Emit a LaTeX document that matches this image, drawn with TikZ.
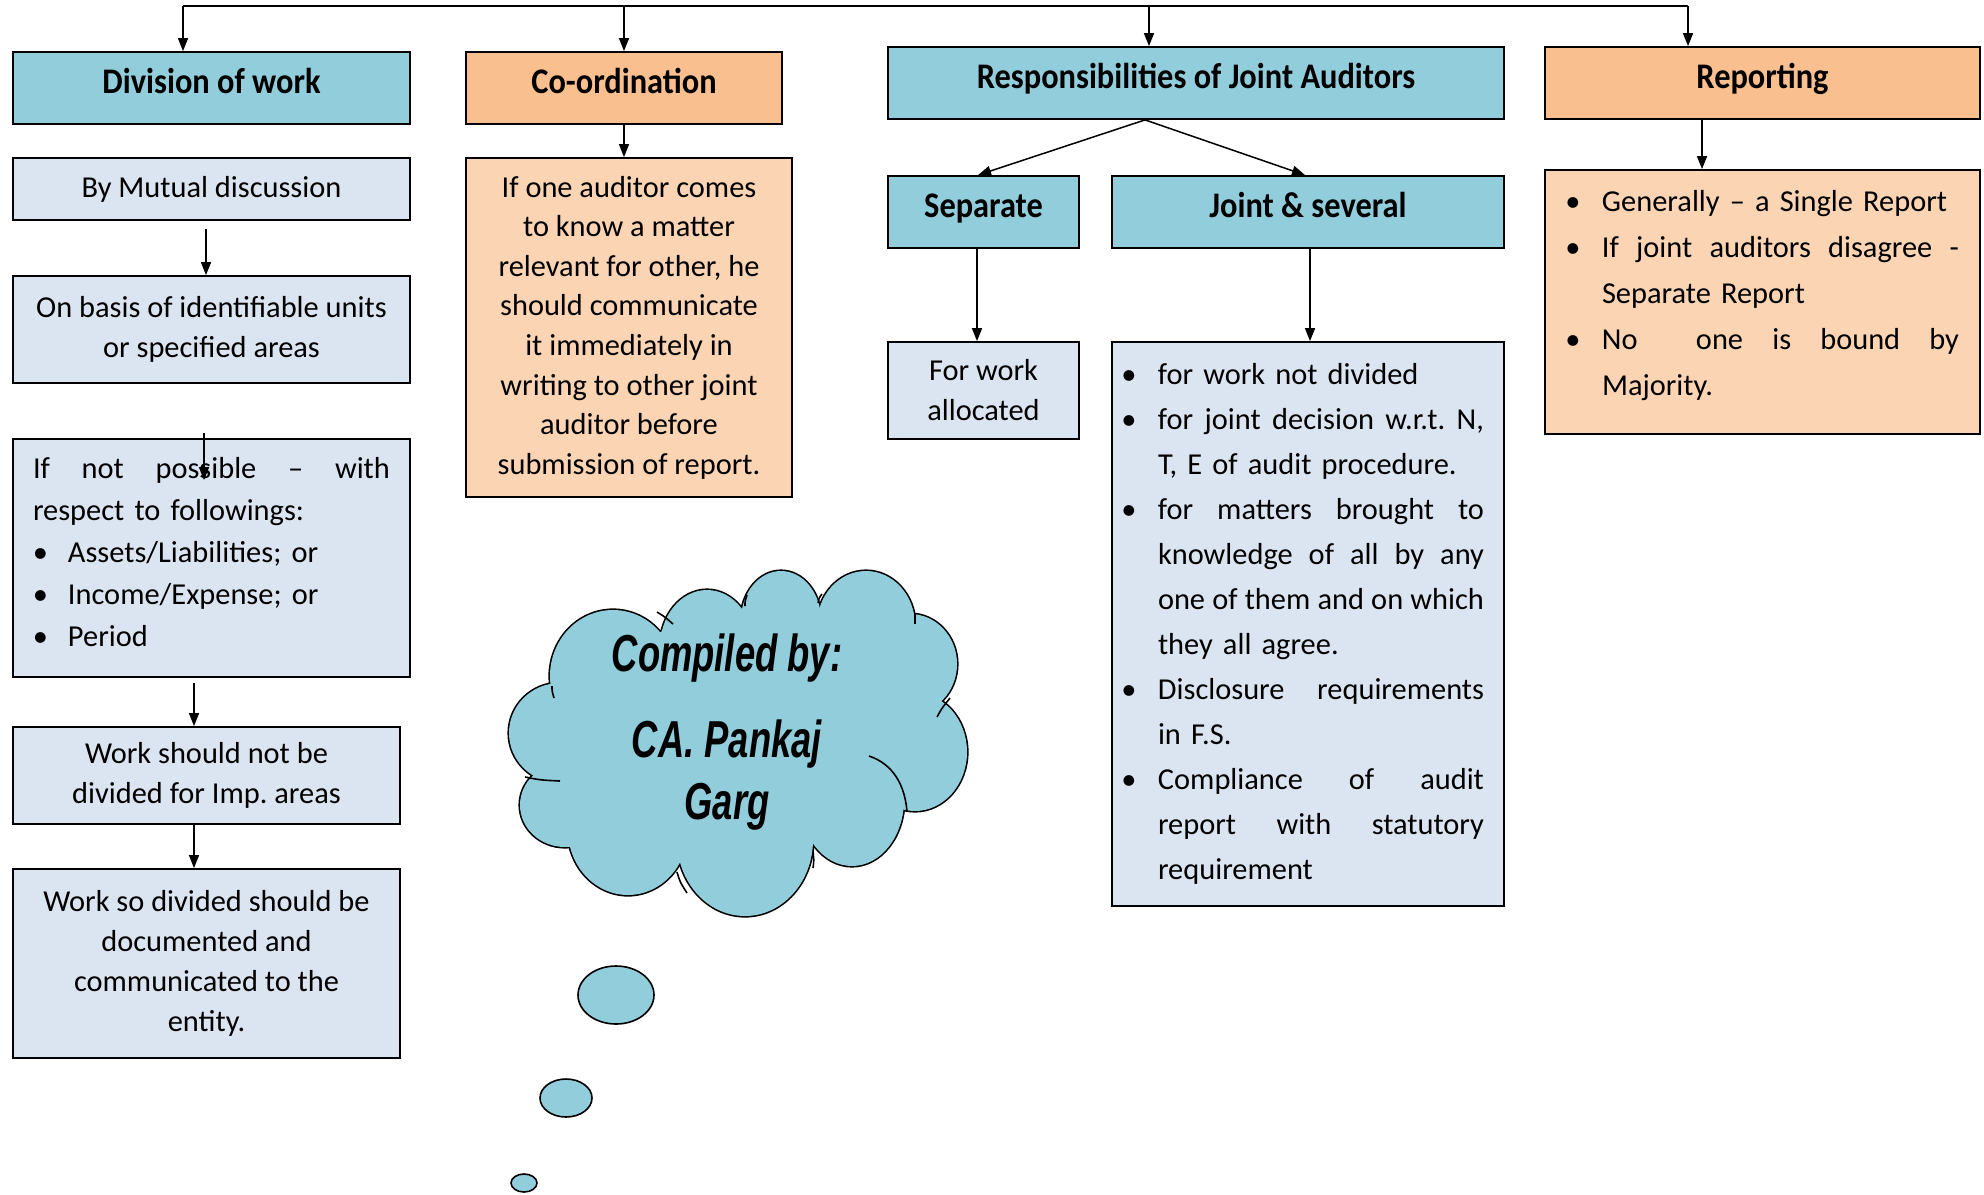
\documentclass[tikz,border=0pt]{standalone}
\usepackage{fontspec}
\setmainfont{Carlito}
\newfontfamily\headfont[FakeStretch=0.9]{Carlito}
\newfontfamily\cloudfont[FakeStretch=0.7]{Liberation Sans}
\usetikzlibrary{arrows.meta}
\frenchspacing

\definecolor{headblue}{HTML}{92CDDC}
\definecolor{headorange}{HTML}{FABF8F}
\definecolor{paleblue}{HTML}{DBE5F1}
\definecolor{paleorange}{HTML}{FBD4B4}

% helpers for bulleted, hand-broken justified lines
\newlength\bulind   % text indent of a bullet item
\newlength\bulpos   % centre of the bullet
\newlength\linew    % width of a justified line
\newcommand\bsym{\textbullet}
\newcommand\spread[2]{\makebox[#1][s]{\spaceskip=0.23em plus 1fil minus 0.05em\xspaceskip=\spaceskip #2}}
\newcommand\bmark{\makebox[\bulind][l]{\hspace*{\bulpos}\makebox[0pt]{\bsym}}}
\newcommand\bi[1]{\bmark#1}
\newcommand\bj[1]{\bmark\spread{\dimexpr\linew-\bulind\relax}{#1}}
\newcommand\ci[1]{\hspace*{\bulind}#1}
\newcommand\cj[1]{\hspace*{\bulind}\spread{\dimexpr\linew-\bulind\relax}{#1}}
\newcommand\jl[1]{\spread{\linew}{#1}}

\tikzset{
  box/.style={draw=black, line width=0.9pt, inner sep=0pt, align=center},
  head/.style={box, font=\headfont\bfseries\fontsize{18}{20}\selectfont, text height=12.5pt, text depth=7.5pt},
  body/.style={box, font=\fontsize{15.2}{20}\selectfont},
  arr/.style={line width=0.75pt, -{Triangle[width=5pt,length=6.5pt]}},
  link/.style={line width=0.75pt},
  puff/.style={draw=black, line width=1.6pt},
  hint/.style={line width=0.8pt},
}

\begin{document}
\begin{tikzpicture}[x=0.5pt, y=-0.5pt]
\useasboundingbox (0,0) rectangle (1984,1194);

% ---- top row of headings
\node[head, fill=headblue, minimum width=198.5pt, minimum height=36pt] (div) at (211.5,88) {Division of work};
\node[head, fill=headorange, minimum width=158pt, minimum height=36pt] (coord) at (624,88) {Co-ordination};
\node[head, fill=headblue, minimum width=308pt, minimum height=36pt] (resp) at (1196,83) {Responsibilities of Joint Auditors};
\node[head, fill=headorange, minimum width=217.5pt, minimum height=36pt] (rep) at (1762.5,83) {Reporting};

% ---- division of work column
\node[body, fill=paleblue, minimum width=198.5pt, minimum height=31pt] (mutual) at (211.5,189) {By Mutual discussion};
\node[body, fill=paleblue, minimum width=198.5pt, minimum height=53.5pt] (basis) at (211.5,329.5) {On basis of identifiable units\\ or specified areas};
\node[body, fill=paleblue, minimum width=198.5pt, minimum height=119pt, text width=178.5pt, align=left,
      text height=11pt, text depth=91pt, font=\fontsize{15.2}{21}\selectfont] (notposs) at (211.5,558)
  {\setlength\linew{178.5pt}\setlength\bulind{17.5pt}\setlength\bulpos{3.75pt}%
   \jl{If not possible – with}\\
   respect to followings:\\
   \bi{Assets/Liabilities; or}\\
   \bi{Income/Expense; or}\\
   \bi{Period}};
\node[body, fill=paleblue, minimum width=193.5pt, minimum height=48.5pt] (imp) at (206.5,775.5) {Work should not be\\ divided for Imp. areas};
\node[body, fill=paleblue, minimum width=193.5pt, minimum height=94.5pt] (docu) at (206.5,963.5) {Work so divided should be\\ documented and\\ communicated to the\\ entity.};

% ---- co-ordination column
\node[body, fill=paleorange, minimum width=163pt, minimum height=169.5pt, font=\fontsize{15.2}{19.8}\selectfont] (coordtext) at (629,327.5)
  {If one auditor comes\\ to know a matter\\ relevant for other, he\\ should communicate\\ it immediately in\\ writing to other joint\\ auditor before\\ submission of report.};

% ---- responsibilities column
\node[head, fill=headblue, minimum width=95.5pt, minimum height=36pt] (sep) at (983.5,212) {Separate};
\node[head, fill=headblue, minimum width=196pt, minimum height=36pt] (joint) at (1308,212) {Joint \& several};
\node[body, fill=paleblue, minimum width=95.5pt, minimum height=48.5pt] (alloc) at (983.5,390.5) {For work\\ allocated};
\node[body, fill=paleblue, minimum width=196pt, minimum height=282pt, text width=190pt, align=left,
      font=\fontsize{15.2}{22.5}\selectfont] (jlist) at (1308,624)
  {\setlength\linew{183pt}\setlength\bulind{20pt}\setlength\bulpos{5.5pt}%
   \bi{for work not divided}\\
   \bj{for joint decision w.r.t. N,}\\
   \ci{T, E of audit procedure.}\\
   \bj{for matters brought to}\\
   \cj{knowledge of all by any}\\
   \cj{one of them and on which}\\
   \ci{they all agree.}\\
   \bj{Disclosure requirements}\\
   \ci{in F.S.}\\
   \bj{Compliance of audit}\\
   \cj{report with statutory}\\
   \ci{requirement}};

% ---- reporting column
\node[body, fill=paleorange, minimum width=217.5pt, minimum height=132pt, text width=202.5pt, align=left,
      text height=11pt, text depth=101.7pt, font=\fontsize{15.2}{23}\selectfont] (replist) at (1762.5,302)
  {\setlength\linew{199.5pt}\setlength\bulind{21pt}\setlength\bulpos{6.5pt}%
   \bi{Generally – a Single Report}\\
   \bj{If joint auditors disagree -}\\
   \ci{Separate Report}\\
   \bj{No\ \ one is bound by}\\
   \ci{Majority.}};

% ---- connectors
\coordinate (tl) at (183,6);
\coordinate (tr) at (1688,6);
\draw[link] (tl) -- (tr);
\draw[arr] (tl) -- (tl |- div.north);
\draw[arr] (coord.north |- tl) -- (coord.north);
\draw[arr] ([xshift=-23.5pt]resp.north |- tl) -- ([xshift=-23.5pt]resp.north);
\draw[arr] (tr) -- (tr |- rep.north);

\draw[arr] ([shift={(-5.5,8)}]mutual.south) -- ([shift={(-5.5,0)}]basis.north);
\draw[arr] ([shift={(-7.5,-5)}]notposs.north) -- ([shift={(-7.5,42)}]notposs.north);
\draw[arr] ([shift={(-17.5,5)}]notposs.south) -- ([shift={(-12.5,0)}]imp.north);
\draw[arr] ([shift={(-12.5,0)}]imp.south) -- ([shift={(-12.5,0)}]docu.north);

\draw[arr] (coord.south) -- (coord.south |- coordtext.north);

\draw[arr] ([shift={(-51,0)}]resp.south) -- ([shift={(-5.5,0)}]sep.north);
\draw[arr] ([shift={(-51,0)}]resp.south) -- ([shift={(-3,0)}]joint.north);
\draw[arr] ([shift={(-6.5,0)}]sep.south) -- ([shift={(-6.5,0)}]alloc.north);
\draw[arr] ([shift={(2,0)}]joint.south) -- ([shift={(2,0)}]jlist.north);

\draw[arr] ([shift={(-60.5,0)}]rep.south) -- ([shift={(-60.5,0)}]rep.south |- replist.north);

% ---- thought cloud: stroked puffs, then filled over to keep only the outer rim
\def\puffs{613/676/63/66, 707/647/47/57, 781/620/40/49, 866/625/49/54, 910/664/47/50,
  915/752/52/59, 852/800/52/66, 745/840/68/76, 628/830/60/65, 565/805/45/42, 560/733/51/50}
\foreach \cx/\cy/\rx/\ry in \puffs
  \path[puff] (\cx,\cy) ellipse [x radius=\rx, y radius=\ry];
\foreach \cx/\cy/\rx/\ry in \puffs
  \fill[headblue] (\cx,\cy) ellipse [x radius=\rx, y radius=\ry];
\fill[headblue] (740,740) ellipse [x radius=170, y radius=95];
\fill[headblue] (760,660) ellipse [x radius=120, y radius=50];

% short inner strokes where the puffs meet
\draw[hint] (552,686) .. controls (552,691) .. (554,698);
\draw[hint] (673,624) .. controls (665,617) .. (657,612);
\draw[hint] (745,606) .. controls (745,601) .. (747,595);
\draw[hint] (818,603) .. controls (819,598) .. (822,594);
\draw[hint] (915,624) .. controls (915,620) .. (915,614);
\draw[hint] (937,717) .. controls (942,708) .. (950,698);
\draw[hint] (869,756) .. controls (893,764) and (905,785) .. (907,812);
\draw[hint] (813,852) .. controls (814,860) .. (813,868);
\draw[hint] (677,872) .. controls (680,882) .. (687,893);
\draw[hint] (525,777) .. controls (540,780) .. (560,781);

\node[font=\cloudfont\bfseries\itshape\fontsize{26}{31}\selectfont, align=center] (cloudtext) at (727,732)
  {Compiled by:\\[12pt] CA. Pankaj\\ Garg};

\draw[line width=0.8pt, fill=headblue] (616,995) ellipse [x radius=38, y radius=29];
\draw[line width=0.8pt, fill=headblue] (566,1098) ellipse [x radius=26, y radius=19];
\draw[line width=0.8pt, fill=headblue] (524,1183) ellipse [x radius=13, y radius=9];
\end{tikzpicture}
\end{document}
